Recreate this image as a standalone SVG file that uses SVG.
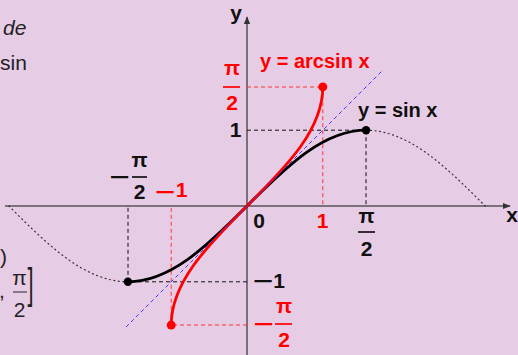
<svg xmlns="http://www.w3.org/2000/svg" width="518" height="355" viewBox="0 0 518 355">
<defs>
<style>
.b{font-family:"Liberation Sans",Arial,sans-serif;font-weight:bold;font-size:21px;fill:#111}
.h{font-size:20px}
.c{text-anchor:middle}
.r{fill:#f00}
.t{font-family:"Liberation Sans",Arial,sans-serif;font-size:21px;fill:#222}
.dk{stroke:#111;stroke-width:1;stroke-dasharray:4 3;fill:none}
.dr{stroke:#f33;stroke-width:1;stroke-dasharray:4 3;fill:none}
.fb{stroke:#111;stroke-width:1.7}
.fr{stroke:#f00;stroke-width:1.7}
.ft{stroke:#222;stroke-width:1}
</style>
<marker id="ah" viewBox="0 0 10 10" refX="9" refY="5" markerWidth="8" markerHeight="8" orient="auto" markerUnits="userSpaceOnUse"><path d="M0,1 L10,5 L0,9 Z" fill="#333"/></marker>
</defs>
<rect width="518" height="355" fill="#E7CCE6"/>

<g id="background-text">
<text class="t" x="3" y="35" font-style="italic">de</text>
<text class="t" x="0" y="70">sin</text>
<text class="t" x="0" y="264">)</text>
<text class="t" x="-1" y="298">,</text>
<text class="t c" x="19.5" y="285">π</text>
<line class="ft" x1="13" y1="292" x2="27" y2="292"/>
<text class="t c" x="19.5" y="317">2</text>
<text class="t" x="27.5" y="157" transform="scale(1,1.9)" style="font-size:22px">]</text>
</g>

<g id="axes">
<line x1="5" y1="206" x2="510" y2="206" stroke="#555" stroke-width="1.6" marker-end="url(#ah)"/>
<line x1="247" y1="355" x2="247" y2="17" stroke="#222" stroke-width="1.1" marker-end="url(#ah)"/>
<text class="b c" x="236" y="20">y</text>
<text class="b c" x="512" y="222">x</text>
</g>

<g id="guides">
<path class="dk" d="M247,130.2 H366 V206"/>
<path class="dk" d="M247,281.8 H128 V206"/>
<path class="dr" d="M247,87 H322.8 V206"/>
<path class="dr" d="M247,325 H171.2 V206"/>
</g>

<g id="connectors">
<path id="sin-dotted" d="M366.07,130.2 C385.91,130.2 405.76,138.37 425.6,152.4 C445.44,166.43 465.3,186.16 485.14,206 M8.86,206 C28.7,225.84 48.56,245.57 68.4,259.6 C88.24,273.63 108.09,281.8 127.93,281.8" fill="none" stroke="#333" stroke-width="1.2" stroke-dasharray="1 3.5" stroke-linecap="round"/>
<path id="sin" d="M127.93,281.8 C147.77,281.8 167.63,273.63 187.47,259.6 C207.31,245.57 227.16,225.84 247,206 C266.84,186.16 286.69,166.43 306.53,152.4 C326.37,138.37 346.23,130.2 366.07,130.2" fill="none" stroke="#000" stroke-width="2.8"/>
<path id="arcsin" d="M171.2,325.07 C171.2,305.23 179.37,285.37 193.4,265.53 C207.43,245.69 227.16,225.84 247,206 C266.84,186.16 286.57,166.31 300.6,146.47 C314.63,126.63 322.8,106.77 322.8,86.93" fill="none" stroke="#f00" stroke-width="2.8"/>
<line id="identity" x1="126" y1="327" x2="383" y2="70" stroke="#3a3aff" stroke-width="1" stroke-dasharray="4 3"/>
</g>

<g id="points">
<circle cx="127.93" cy="281.8" r="4.2" fill="#000"/>
<circle cx="366.07" cy="130.2" r="4.2" fill="#000"/>
<circle cx="171.2" cy="325.07" r="4.5" fill="#f00"/>
<circle cx="322.8" cy="86.93" r="4.5" fill="#f00"/>
</g>

<g id="labels">
<text class="b r h" x="260" y="68">y = arcsin x</text>
<text class="b h" x="358" y="117">y = sin x</text>
<text class="b c" x="259" y="228">0</text>
<text class="b r c" x="322.5" y="228">1</text>
<text class="b c" x="235.5" y="137">1</text>
<text class="b" x="253" y="288" textLength="20" lengthAdjust="spacingAndGlyphs">−</text>
<text class="b c" x="279" y="288">1</text>
<text class="b r" x="155" y="199" textLength="20" lengthAdjust="spacingAndGlyphs">−</text>
<text class="b r c" x="181.5" y="197">1</text>

<text class="b r c" x="232" y="75">π</text>
<line class="fr" x1="223" y1="87" x2="240" y2="87"/>
<text class="b r c" x="232" y="110">2</text>

<text class="b" x="109.5" y="183.7" textLength="20" lengthAdjust="spacingAndGlyphs">−</text>
<text class="b c" x="139.5" y="167">π</text>
<line class="fb" x1="132" y1="177" x2="147" y2="177"/>
<text class="b c" x="139.5" y="199">2</text>

<text class="b c" x="366.5" y="223">π</text>
<line class="fb" x1="358" y1="232" x2="375" y2="232"/>
<text class="b c" x="366.5" y="256">2</text>

<text class="b r" x="253.5" y="330.7" textLength="20" lengthAdjust="spacingAndGlyphs">−</text>
<text class="b r c" x="284" y="313">π</text>
<line class="fr" x1="275" y1="324" x2="292" y2="324"/>
<text class="b r c" x="284" y="347">2</text>
</g>
</svg>
